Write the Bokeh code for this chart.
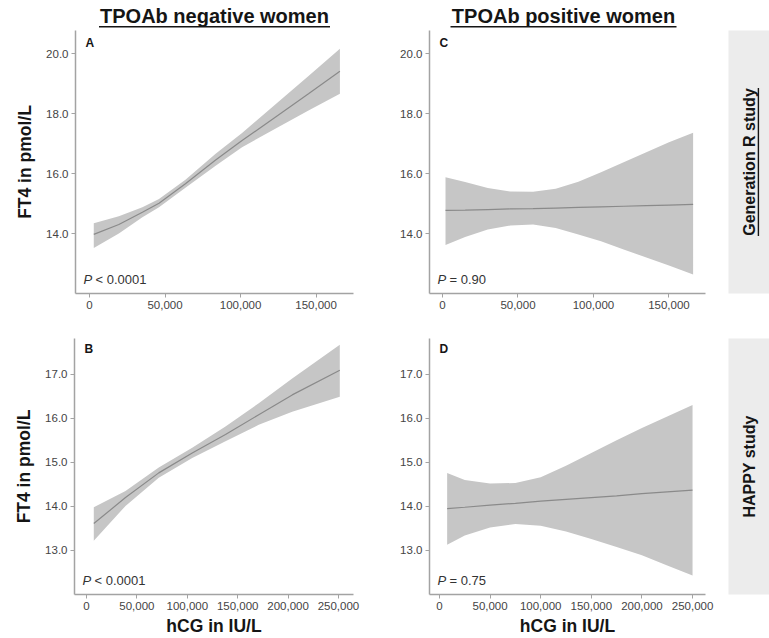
import math
from bokeh.plotting import figure
from bokeh.layouts import column, row
from bokeh.models import Range1d, FixedTicker, NumeralTickFormatter, Label, BoxAnnotation
from bokeh.embed import file_html
from bokeh.resources import INLINE

FONT = "Liberation Sans"

# ---------------- data ----------------
# Panel A: Generation R, TPOAb negative
hcg_A = [2800, 19400, 35000, 46000, 63500, 83500, 101000, 123000, 145000, 165800]
fit_A = [13.97, 14.30, 14.71, 15.01, 15.66, 16.45, 17.10, 17.88, 18.66, 19.41]
lo_A = [13.52, 14.00, 14.54, 14.88, 15.53, 16.26, 16.88, 17.49, 18.10, 18.66]
hi_A = [14.34, 14.58, 14.88, 15.15, 15.79, 16.66, 17.35, 18.30, 19.25, 20.16]

# Panel C: Generation R, TPOAb positive
hcg_C = [2000, 15000, 30000, 45000, 60000, 75000, 90000, 105000, 120000, 135000, 150000, 166000]
fit_C = [14.77, 14.78, 14.80, 14.82, 14.83, 14.85, 14.87, 14.89, 14.91, 14.93, 14.95, 14.97]
lo_C = [13.62, 13.88, 14.13, 14.27, 14.30, 14.18, 13.97, 13.74, 13.47, 13.20, 12.93, 12.63]
hi_C = [15.88, 15.72, 15.52, 15.40, 15.39, 15.49, 15.73, 16.04, 16.38, 16.71, 17.04, 17.36]

# Panel B: HAPPY, TPOAb negative
hcg_B = [7240, 38700, 71700, 104900, 137900, 170900, 204100, 251300]
fit_B = [13.61, 14.20, 14.76, 15.21, 15.63, 16.08, 16.53, 17.09]
lo_B = [13.22, 14.01, 14.65, 15.10, 15.48, 15.85, 16.15, 16.49]
hi_B = [13.98, 14.35, 14.88, 15.33, 15.81, 16.34, 16.90, 17.67]

# Panel D: HAPPY, TPOAb positive
hcg_D = [7600, 25000, 50000, 75000, 100000, 125000, 150000, 175000, 200000, 225000, 250000]
fit_D = [13.95, 13.98, 14.03, 14.07, 14.12, 14.16, 14.20, 14.24, 14.29, 14.33, 14.37]
lo_D = [13.13, 13.34, 13.52, 13.60, 13.56, 13.43, 13.26, 13.08, 12.89, 12.66, 12.43]
hi_D = [14.76, 14.60, 14.52, 14.53, 14.66, 14.92, 15.21, 15.50, 15.78, 16.04, 16.30]

# ticks
xticks_top = [0, 50000, 100000, 150000]
xticks_bottom = [0, 50000, 100000, 150000, 200000, 250000]
yticks_top = [14, 16, 18, 20]
yticks_bottom = [13, 14, 15, 16, 17]

col_titles = ["TPOAb negative women", "TPOAb positive women"]
row_titles = ["Generation R study", "HAPPY study"]
panel_letters = ["A", "C", "B", "D"]
p_values = ["< 0.0001", "= 0.90", "< 0.0001", "= 0.75"]
y_title = "FT4 in pmol/L"
x_title = "hCG in IU/L"

BAND = "#c6c6c6"
LINE = "#8a8a8a"
AXIS = "#a3a3a3"
TICKLAB = "#444444"
DARK = "#151515"


def panel(x, fit, lo, hi, xr, yr, xt, yt, w, h, bl, br, bt, bb,
          letter, pval, ylabel, xlabel):
    p = figure(width=w, height=h, x_range=Range1d(*xr), y_range=Range1d(*yr),
               output_backend="svg", toolbar_location=None, title=None,
               min_border_left=bl, min_border_right=br,
               min_border_top=bt, min_border_bottom=bb)
    p.outline_line_color = None
    p.xgrid.visible = False
    p.ygrid.visible = False
    p.background_fill_color = "white"
    p.border_fill_color = "white"
    p.varea(x=x, y1=lo, y2=hi, fill_color=BAND, fill_alpha=1.0)
    p.line(x, fit, line_color=LINE, line_width=1.2)

    p.xaxis.ticker = FixedTicker(ticks=xt)
    p.yaxis.ticker = FixedTicker(ticks=yt)
    p.xaxis.formatter = NumeralTickFormatter(format="0,0")
    p.yaxis.formatter = NumeralTickFormatter(format="0.0")
    for ax in p.axis:
        ax.axis_line_color = AXIS
        ax.axis_line_width = 1.5
        ax.major_tick_line_color = AXIS
        ax.major_tick_line_width = 1
        ax.major_tick_out = 4
        ax.major_tick_in = 0
        ax.minor_tick_line_color = None
        ax.major_label_text_font = FONT
        ax.major_label_text_font_size = "11.5px"
        ax.major_label_text_color = TICKLAB
        ax.major_label_standoff = 3
        ax.axis_label_text_font = FONT
        ax.axis_label_text_font_style = "bold"
        ax.axis_label_text_font_size = "17.5px"
        ax.axis_label_text_color = DARK
    if ylabel:
        p.yaxis.axis_label = ylabel
        p.yaxis.axis_label_standoff = 8
    if xlabel:
        p.xaxis.axis_label = xlabel
        p.xaxis.axis_label_standoff = 3

    fh = h - bt - bb
    p.add_layout(Label(x=10, y=fh - 12, x_units="screen", y_units="screen",
                       text=letter, text_font=FONT, text_font_style="bold",
                       text_font_size="12px", text_color=DARK,
                       text_baseline="middle", text_align="left"))
    p.add_layout(Label(x=8, y=14, x_units="screen", y_units="screen",
                       text="P", text_font=FONT, text_font_style="italic",
                       text_font_size="13px", text_color="#333333",
                       text_baseline="middle", text_align="left"))
    p.add_layout(Label(x=20, y=14, x_units="screen", y_units="screen",
                       text=pval, text_font=FONT,
                       text_font_size="13px", text_color="#333333",
                       text_baseline="middle", text_align="left"))
    return p


def header(text, w, cx, ulen):
    h = figure(width=w, height=30, x_range=Range1d(0, w), y_range=Range1d(0, 30),
               output_backend="svg", toolbar_location=None, title=None,
               min_border=0, x_axis_location=None, y_axis_location=None)
    h.outline_line_color = None
    h.xgrid.visible = False
    h.ygrid.visible = False
    h.add_layout(Label(x=cx, y=15, text=text, text_font=FONT, text_font_style="bold",
                       text_font_size="20px", text_color=DARK,
                       text_align="center", text_baseline="middle"))
    h.add_layout(BoxAnnotation(left=cx - ulen / 2, right=cx + ulen / 2,
                               bottom=3.0, top=4.6, fill_color=DARK, fill_alpha=1.0,
                               line_color=None))
    return h


def strip(text, h, bt, bb, underline):
    fh = h - bt - bb
    s = figure(width=41, height=h, x_range=Range1d(0, 41), y_range=Range1d(0, fh),
               output_backend="svg", toolbar_location=None, title=None,
               min_border_left=0, min_border_right=0,
               min_border_top=bt, min_border_bottom=bb,
               x_axis_location=None, y_axis_location=None)
    s.outline_line_color = None
    s.xgrid.visible = False
    s.ygrid.visible = False
    s.background_fill_color = "#ececec"
    s.border_fill_color = "white"
    s.add_layout(Label(x=21, y=fh / 2, text=text, angle=math.pi / 2,
                       text_font=FONT, text_font_style="bold", text_font_size="16px",
                       text_color=DARK, text_align="center", text_baseline="middle"))
    if underline:
        s.add_layout(BoxAnnotation(left=29.2, right=30.6, bottom=fh / 2 - 74,
                                   top=fh / 2 + 74, fill_color=DARK, fill_alpha=1.0,
                                   line_color=None))
    return s


pA = panel(hcg_A, fit_A, lo_A, hi_A, (-9300, 174800), (12.0, 20.77), xticks_top, yticks_top,
           365, 288, 75, 12, 0, 25, panel_letters[0], p_values[0], y_title, None)
pC = panel(hcg_C, fit_C, lo_C, hi_C, (-8600, 174200), (12.0, 20.77), xticks_top, yticks_top,
           363, 288, 64, 23, 0, 25, panel_letters[1], p_values[1], None, None)
pB = panel(hcg_B, fit_B, lo_B, hi_B, (-11900, 264900), (12.0, 17.81), xticks_bottom, yticks_bottom,
           365, 320, 74, 12, 20, 42, panel_letters[2], p_values[2], y_title, x_title)
pD = panel(hcg_D, fit_D, lo_D, hi_D, (-9840, 262800), (12.0, 17.81), xticks_bottom, yticks_bottom,
           363, 320, 64, 23, 20, 42, panel_letters[3], p_values[3], None, x_title)

hA = header(col_titles[0], 365, 214, 231)
hC = header(col_titles[1], 363, 563 - 365, 226)
sA = strip(row_titles[0], 288, 0, 25, True)
sB = strip(row_titles[1], 320, 20, 42, False)

layout = column(row(hA, hC), row(pA, pC, sA), row(pB, pD, sB))

open("out.html", "w").write(file_html(layout, INLINE))
